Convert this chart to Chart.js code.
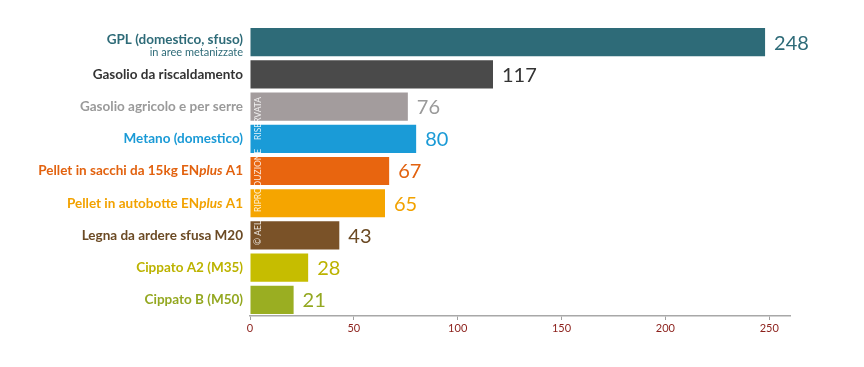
<!DOCTYPE html>
<html><head><meta charset="utf-8">
<script src="https://cdn.jsdelivr.net/npm/chart.js@4.4.1/dist/chart.umd.min.js"></script>
<style>html,body{margin:0;padding:0;background:#fff}#wrap{width:864px;height:367px;position:relative}</style>
</head><body><div id="wrap"><canvas id="c" width="864" height="367"></canvas></div>
<script>
const categories = [
  "GPL (domestico, sfuso)",
  "Gasolio da riscaldamento",
  "Gasolio agricolo e per serre",
  "Metano (domestico)",
  "Pellet in sacchi da 15kg ENplus A1",
  "Pellet in autobotte ENplus A1",
  "Legna da ardere sfusa M20",
  "Cippato A2 (M35)",
  "Cippato B (M50)"
];
const subLabels = ["in aree metanizzate", "", "", "", "", "", "", "", ""];
const values = [248, 117, 76, 80, 67, 65, 43, 28, 21];
const barColors = ["#2e6b78", "#4a4a4a", "#a39c9d", "#1a9bd7", "#e8650f", "#f5a500", "#7a5228", "#c6bd00", "#9aae22"];
const labelColors = ["#2e6b78", "#333333", "#9a9a9a", "#1a9ad6", "#e2620f", "#f2a200", "#6b4a24", "#bcb300", "#94a821"];
const tickValues = [0, 50, 100, 150, 200, 250];
const watermark = "\u00A9 AEL    RIPRODUZIONE    RISERVATA";

const labelPlugin = {
  id: 'labels',
  afterDatasetsDraw(chart) {
    const ctx = chart.ctx, x = chart.scales.x, y = chart.scales.y;
    ctx.save();
    categories.forEach((cat, i) => {
      const cy = y.getPixelForValue(i);
      const right = x.left - 7;
      ctx.fillStyle = labelColors[i];
      ctx.textBaseline = 'middle';
      const mainFont = 'bold 13.5px Lato, "Open Sans", sans-serif';
      const italFont = 'italic bold 13.5px Lato, "Open Sans", sans-serif';
      let ly = subLabels[i] ? cy - 2 : cy;
      const idx = cat.indexOf('ENplus');
      if (idx >= 0) {
        const a = cat.slice(0, idx + 2), b = 'plus', c = cat.slice(idx + 6);
        ctx.font = mainFont; const wa = ctx.measureText(a).width, wc = ctx.measureText(c).width;
        ctx.font = italFont; const wb = ctx.measureText(b).width;
        let sx = right - (wa + wb + wc);
        ctx.textAlign = 'left';
        ctx.font = mainFont; ctx.fillText(a, sx, ly);
        ctx.font = italFont; ctx.fillText(b, sx + wa, ly);
        ctx.font = mainFont; ctx.fillText(c, sx + wa + wb, ly);
      } else {
        ctx.textAlign = 'right';
        ctx.font = mainFont;
        ctx.fillText(cat, right, ly);
      }
      if (subLabels[i]) {
        ctx.font = '11px Lato, "Open Sans", sans-serif';
        ctx.textAlign = 'right';
        ctx.fillText(subLabels[i], right, cy + 10);
      }
      const bx = x.getPixelForValue(values[i]);
      ctx.font = '20px Lato, "Open Sans", sans-serif';
      ctx.textAlign = 'left';
      ctx.fillStyle = labelColors[i];
      ctx.fillText(String(values[i]), bx + 9, cy + 1);
    });
    const wx = x.getPixelForValue(4);
    const wy = (y.getPixelForValue(2) + y.getPixelForValue(6)) / 2;
    ctx.translate(wx, wy);
    ctx.rotate(-Math.PI / 2);
    ctx.font = '8.5px Lato, "Open Sans", sans-serif';
    ctx.fillStyle = 'rgba(255,255,255,0.85)';
    ctx.textAlign = 'center';
    ctx.textBaseline = 'middle';
    ctx.fillText(watermark, 0, 0);
    ctx.restore();
  }
};

new Chart(document.getElementById('c'), {
  type: 'bar',
  data: {
    labels: categories,
    datasets: [{ data: values, backgroundColor: barColors, borderWidth: 0, barPercentage: 0.875, categoryPercentage: 1 }]
  },
  options: {
    indexAxis: 'y',
    responsive: false,
    animation: false,
    layout: { padding: { top: 26, right: 74, bottom: 0, left: 0 } },
    plugins: { legend: { display: false }, tooltip: { enabled: false } },
    scales: {
      x: {
        min: 0, max: 260,
        afterFit(s) { s.height = 51; },
        afterBuildTicks(s) { s.ticks = tickValues.map(v => ({ value: v })); },
        grid: { drawOnChartArea: false, drawTicks: true, tickLength: 4, color: '#a0a0a0', lineWidth: 1 },
        border: { display: true, color: '#a8a8a8', width: 1.5 },
        ticks: { color: '#8b1f1a', font: { family: 'Lato, "Open Sans", sans-serif', size: 11 }, padding: 2, maxRotation: 0 }
      },
      y: {
        afterFit(s) { s.width = 250; },
        grid: { display: false },
        border: { display: false },
        ticks: { display: false }
      }
    }
  },
  plugins: [labelPlugin]
});
</script></body></html>
